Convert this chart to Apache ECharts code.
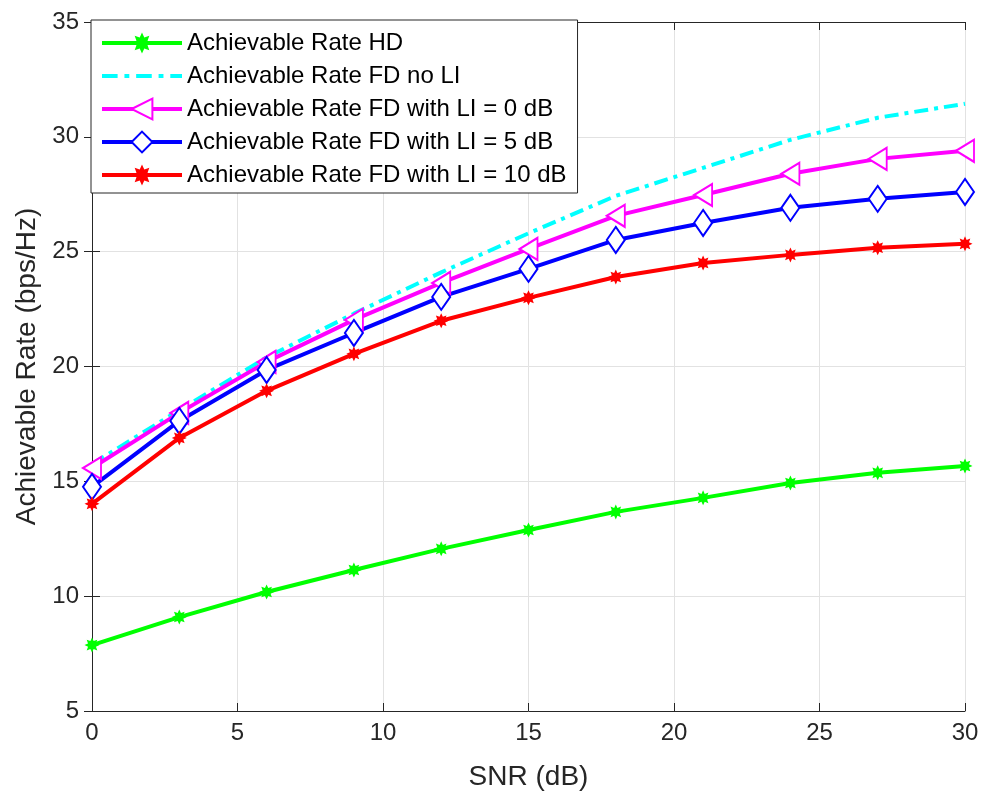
<!DOCTYPE html>
<html><head><meta charset="utf-8">
<script src="https://cdn.jsdelivr.net/npm/echarts@6/dist/echarts.min.js"></script>
<style>html,body{margin:0;padding:0;background:#fff}#c{width:984px;height:802px}</style>
</head><body><div id="c"></div>
<script>
const snr = [0, 3, 6, 9, 12, 15, 18, 21, 24, 27, 30];
const rateHD = [7.87, 9.09, 10.18, 11.14, 12.06, 12.88, 13.67, 14.28, 14.93, 15.37, 15.67];
const rateFDnoLI = [15.75, 18.1, 20.4, 22.3, 24.1, 25.8, 27.43, 28.65, 29.87, 30.83, 31.44];
const rateLI0 = [15.58, 17.98, 20.2, 22.03, 23.64, 25.12, 26.56, 27.47, 28.39, 29.04, 29.39];
const rateLI5 = [14.76, 17.63, 19.85, 21.46, 23.03, 24.25, 25.51, 26.25, 26.91, 27.30, 27.60];
const rateLI10 = [14.02, 16.89, 18.94, 20.55, 21.99, 22.99, 23.90, 24.51, 24.86, 25.17, 25.34];
const seriesNames = ['Achievable Rate HD', 'Achievable Rate FD no LI', 'Achievable Rate FD with LI = 0 dB', 'Achievable Rate FD with LI = 5 dB', 'Achievable Rate FD with LI = 10 dB'];
const xTicks = [0, 5, 10, 15, 20, 25, 30];
const yTicks = [5, 10, 15, 20, 25, 30, 35];

const star = 'path://M0,-10 L2.2,-5.3 L7.07,-7.07 L5.3,-2.2 L10,0 L5.3,2.2 L7.07,7.07 L2.2,5.3 L0,10 L-2.2,5.3 L-7.07,7.07 L-5.3,2.2 L-10,0 L-5.3,-2.2 L-7.07,-7.07 L-2.2,-5.3 Z';
const dashIcon = 'path://M0,0 h16 v4 h-16 z M23,0 h5 v4 h-5 z M35,0 h16 v4 h-16 z M58,0 h5 v4 h-5 z M70,0 h12 v4 h-12 z';
const pair = arr => snr.map((x, i) => [x, arr[i]]);
const axisCol = '#262626';
const font = 'Liberation Sans, Arial, sans-serif';

const chart = echarts.init(document.getElementById('c'), null, {renderer: 'canvas'});
const mk = (name, data, color, extra) => Object.assign({
  name, type: 'line', data: pair(data), xAxisIndex: 0, yAxisIndex: 0,
  lineStyle: {color, width: 4}, itemStyle: {color, borderColor: color, borderWidth: 3},
  emphasis: {disabled: true}, animation: false, z: 3
}, extra);

chart.setOption({
  backgroundColor: '#fff',
  animation: false,
  grid: {left: 92, right: 19, top: 22, bottom: 91, containLabel: false},
  legend: {
    left: 91, top: 20, orient: 'vertical',
    padding: [11, 11, 6, 9],
    itemWidth: 80, itemHeight: 26, itemGap: 9,
    borderColor: axisCol, borderWidth: 1, backgroundColor: '#fff',
    lineStyle: {width: 4},
    textStyle: {fontFamily: font, fontSize: 24, color: '#000'},
    data: seriesNames.map((n, i) => i === 1 ? {name: n, icon: dashIcon} : {name: n}),
    z: 10
  },
  xAxis: [
    {type: 'value', min: 0, max: 30, interval: 5, position: 'bottom',
     name: 'SNR (dB)', nameLocation: 'middle', nameGap: 52,
     nameTextStyle: {fontFamily: font, fontSize: 28, color: axisCol},
     axisLine: {lineStyle: {color: axisCol, width: 1}},
     axisTick: {inside: true, length: 8, lineStyle: {color: axisCol}},
     axisLabel: {fontFamily: font, fontSize: 24, color: axisCol, margin: 10,
       formatter: v => xTicks.includes(v) ? String(v) : ''},
     splitLine: {show: true, lineStyle: {color: '#e2e2e2', width: 1}}},
    {type: 'value', min: 0, max: 30, interval: 5, position: 'top',
     axisLine: {lineStyle: {color: axisCol, width: 1}},
     axisTick: {inside: true, length: 8, lineStyle: {color: axisCol}},
     axisLabel: {show: false}, splitLine: {show: false}}
  ],
  yAxis: [
    {type: 'value', min: 5, max: 35, interval: 5, position: 'left',
     name: 'Achievable Rate (bps/Hz)', nameLocation: 'middle', nameGap: 49,
     nameTextStyle: {fontFamily: font, fontSize: 28, color: axisCol},
     axisLine: {show: true, lineStyle: {color: axisCol, width: 1}},
     axisTick: {show: true, inside: true, length: 8, lineStyle: {color: axisCol}},
     axisLabel: {fontFamily: font, fontSize: 24, color: axisCol, margin: 13,
       formatter: v => yTicks.includes(v) ? String(v) : ''},
     splitLine: {show: true, lineStyle: {color: '#e2e2e2', width: 1}}},
    {type: 'value', min: 5, max: 35, interval: 5, position: 'right',
     axisLine: {show: true, lineStyle: {color: axisCol, width: 1}},
     axisTick: {show: true, inside: true, length: 8, lineStyle: {color: axisCol}},
     axisLabel: {show: false}, splitLine: {show: false}}
  ],
  series: [
    mk(seriesNames[0], rateHD, '#00ff00', {symbol: star, symbolSize: 15, itemStyle: {color: '#00ff00', borderWidth: 0}}),
    mk(seriesNames[1], rateFDnoLI, '#00ffff', {symbol: 'none', showSymbol: false, lineStyle: {color: '#00ffff', width: 4, type: [14, 6, 4, 6]}, itemStyle: {color: '#00ffff'}}),
    mk(seriesNames[2], rateLI0, '#ff00ff', {symbol: 'emptyTriangle', symbolSize: [22, 18], symbolRotate: 90}),
    mk(seriesNames[3], rateLI5, '#0000ff', {symbol: 'emptyDiamond', symbolSize: [18, 26]}),
    mk(seriesNames[4], rateLI10, '#ff0000', {symbol: star, symbolSize: 15, itemStyle: {color: '#ff0000', borderWidth: 0}})
  ]
});
</script></body></html>
